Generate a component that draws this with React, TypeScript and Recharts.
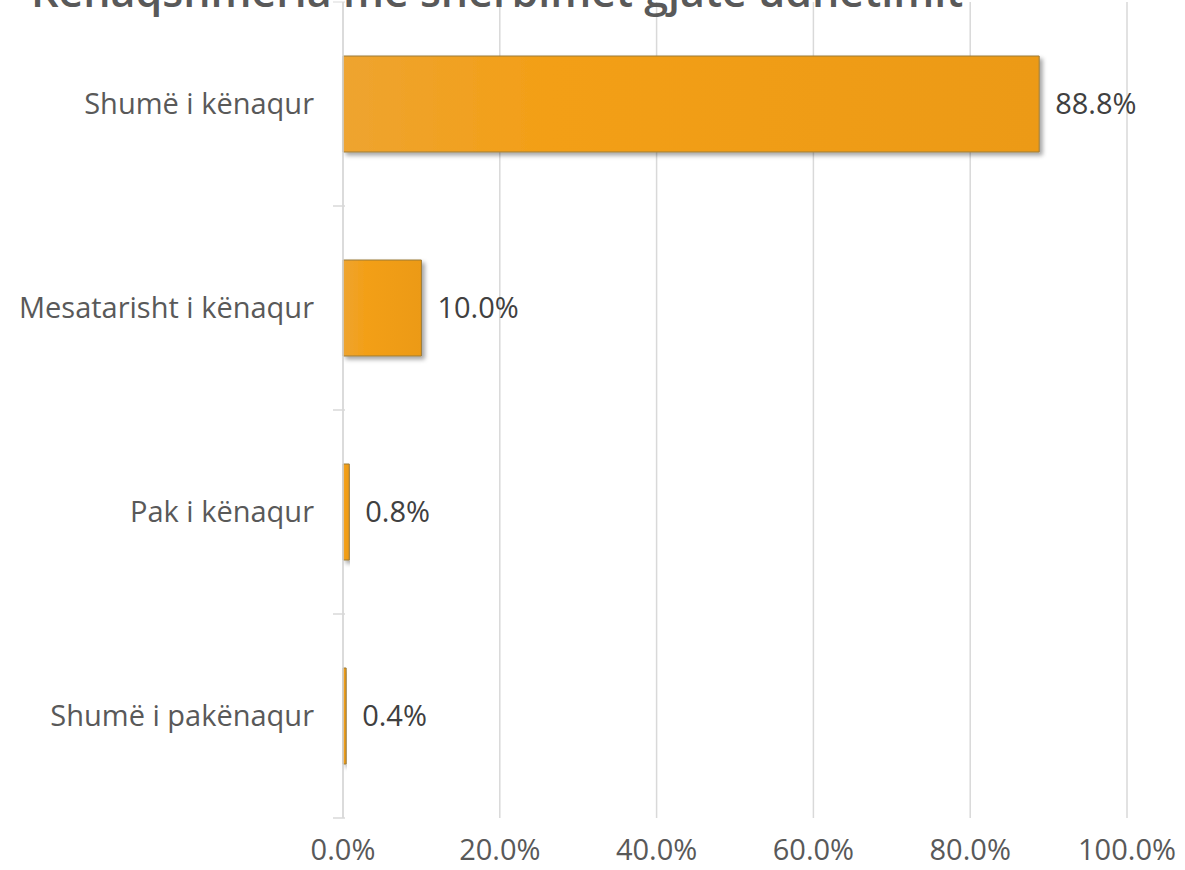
import { BarChart, Bar, XAxis, YAxis, CartesianGrid, LabelList } from "recharts";

const categories = ["Shumë i kënaqur", "Mesatarisht i kënaqur", "Pak i kënaqur", "Shumë i pakënaqur"];
const shares = [88.8, 10.0, 0.8, 0.4];
const xTicks = [0, 20, 40, 60, 80, 100];
const title = "Kënaqshmëria me shërbimet gjatë udhëtimit";

const data = categories.map((name, i) => ({ name, value: shares[i] }));

const FONT = "'Open Sans', 'Noto Sans', sans-serif";
const pct = (v: number) => `${v.toFixed(1)}%`;

function CategoryTick(props: any) {
  const { x, y, payload, index } = props;
  const half = payload?.offset ?? 102;
  const axisX = x + 10;
  return (
    <g>
      {index === 0 && <line x1={axisX - 12} x2={axisX} y1={y - half} y2={y - half} stroke="#d9d9d9" />}
      <line x1={axisX - 12} x2={axisX} y1={y + half} y2={y + half} stroke="#d9d9d9" strokeWidth={1.5} />
      <text x={x - 21} y={y} dy="0.35em" textAnchor="end" fill="#595959" fontSize={29} fontFamily={FONT}>
        {payload.value}
      </text>
    </g>
  );
}

export default function App() {
  return (
    <div style={{ position: "absolute", left: 0, top: 0, width: 1185, height: 870, background: "#fff" }}>
      <BarChart
        width={1185}
        height={870}
        data={data}
        layout="vertical"
        margin={{ top: 2, right: 58, bottom: 0, left: 0 }}
      >
        <defs>
          <linearGradient id="barFill" x1="0" y1="0" x2="1" y2="0">
            <stop offset="0%" stopColor="#eea430" />
            <stop offset="30%" stopColor="#f39f16" />
            <stop offset="100%" stopColor="#ec9a16" />
          </linearGradient>
          <filter id="barShadow" x="-5%" y="-5%" width="115%" height="120%">
            <feDropShadow dx="3" dy="3" stdDeviation="2" floodColor="#000" floodOpacity="0.35" />
          </filter>
        </defs>
        <CartesianGrid horizontal={false} stroke="#d9d9d9" strokeWidth={1.5} />
        <XAxis
          type="number"
          domain={[0, 100]}
          ticks={xTicks}
          tickFormatter={pct}
          axisLine={false}
          tickLine={false}
          tickSize={0}
          tickMargin={21}
          height={52}
          tick={{ fill: "#595959", fontSize: 29, fontFamily: FONT }}
        />
        <YAxis
          type="category"
          dataKey="name"
          width={343}
          axisLine={{ stroke: "#d9d9d9", strokeWidth: 1.5 }}
          tickLine={false}
          tick={<CategoryTick />}
        />
        <Bar
          dataKey="value"
          barSize={96}
          fill="url(#barFill)"
          stroke="#9a7a3a"
          strokeWidth={1}
          filter="url(#barShadow)"
          isAnimationActive={false}
        >
          <LabelList
            dataKey="value"
            position="right"
            offset={16}
            formatter={(v: any) => pct(Number(v))}
            fill="#404040"
            fontSize={29}
            fontFamily={FONT}
          />
        </Bar>
        <text x={31} y={7} fill="#595959" fontSize={43} fontFamily={FONT} fontWeight={600}>
          {title}
        </text>
      </BarChart>
    </div>
  );
}
